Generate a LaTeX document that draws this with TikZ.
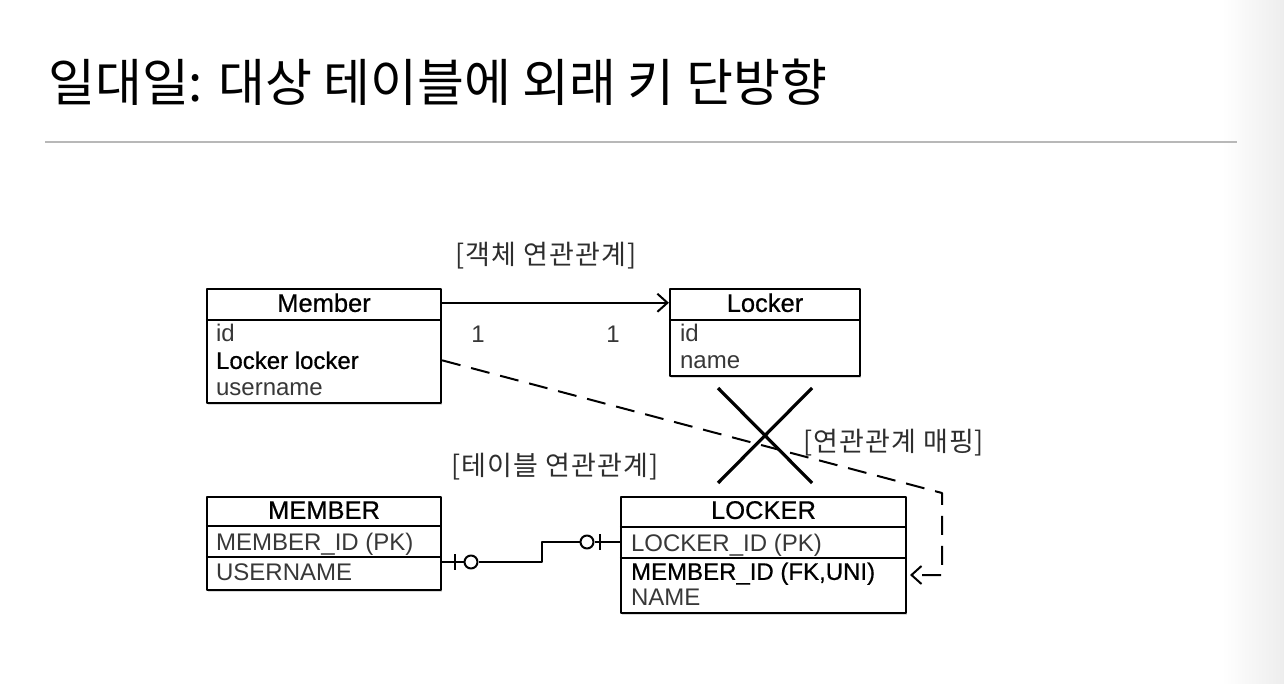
\documentclass[tikz,border=0pt]{standalone}
\usepackage{fontspec}
\setmainfont{Liberation Sans}
\newfontfamily\medfont[FakeBold=0.6]{Liberation Sans}
\newfontfamily\kr{Noto Sans CJK KR}
\newfontfamily\krl[LetterSpace=4]{Noto Sans CJK KR}
\usetikzlibrary{positioning,arrows.meta,shadows}

\tikzset{
	tbl/.style={draw,line width=2.2pt,fill=white,inner sep=0pt,
		drop shadow={opacity=0.3,shadow xshift=1pt,shadow yshift=-2pt}},
	tline/.style={line width=1.7pt},
	hd/.style={font=\medfont\fontsize{25.5}{25.5}\selectfont,anchor=base,inner sep=0pt},
	fld/.style={font=\fontsize{24}{24}\selectfont,text=black!78,anchor=base west,inner sep=0pt},
	fldb/.style={fld,font=\medfont\fontsize{24}{24}\selectfont,text=black},
	lbl/.style={font=\krl\fontsize{27}{27}\selectfont,text=black!82,inner sep=0pt},
	conn/.style={line width=2pt},
	zero/.style={circle,draw,line width=2pt,fill=white,inner sep=0pt,minimum size=13pt}
}

\begin{document}
\begin{tikzpicture}[x=1pt,y=-1pt,>={Straight Barb[length=10pt,width=18pt]},line join=round]
	\useasboundingbox (0,0) rectangle (1284,684);
	\shade[left color=white,right color=black!7] (1222,0) rectangle (1284,684);
	% title
	\node[anchor=west,inner sep=0pt,font=\kr\fontsize{51}{51}\selectfont] (title) at (48,82) {일대일: 대상 테이블에 외래 키 단방향};
	\draw[line width=1.5pt,black!28] (45,142) -- (1237,142);

	% objects
	\node[tbl,minimum width=234,minimum height=114] (member) at (324,346) {};
	\draw[tline] ([yshift=-32pt]member.north west) -- ([yshift=-32pt]member.north east);
	\node[hd] (memberhead) at ([yshift=-24pt]member.north) {Member};
	\node[fld] (memberid) at ([xshift=10pt,yshift=-54pt]member.north west) {id};
	\node[fldb] (memberlocker) at ([xshift=10pt,yshift=-81pt]member.north west) {Locker locker};
	\node[fld] (membername) at ([xshift=10pt,yshift=-108pt]member.north west) {username};

	\node[tbl,minimum width=190,minimum height=87] (locker) at (765,332.5) {};
	\draw[tline] ([yshift=-32pt]locker.north west) -- ([yshift=-32pt]locker.north east);
	\node[hd] (lockerhead) at ([yshift=-24pt]locker.north) {Locker};
	\node[fld] (lockerid) at ([xshift=11pt,yshift=-54pt]locker.north west) {id};
	\node[fld] (lockername) at ([xshift=11pt,yshift=-81pt]locker.north west) {name};

	\node[lbl] (objlabel) at (546,256) {[객체 연관관계]};
	\node[fld,anchor=base] (onea) at (478,342) {1};
	\node[fld,anchor=base] (oneb) at (613,342) {1};
	\draw[conn,->] (member.east |- memberhead.center) -- (locker.west |- memberhead.center);

	% tables
	\node[tbl,minimum width=234,minimum height=93] (MEMBER) at (324,543.5) {};
	\draw[tline] ([yshift=-30pt]MEMBER.north west) -- ([yshift=-30pt]MEMBER.north east);
	\draw[tline] ([yshift=-61pt]MEMBER.north west) -- ([yshift=-61pt]MEMBER.north east);
	\node[hd] (MEMBERhead) at ([yshift=-23pt]MEMBER.north) {MEMBER};
	\node[fld] (MEMBERid) at ([xshift=10pt,yshift=-55pt]MEMBER.north west) {MEMBER\_ID (PK)};
	\node[fld] (MEMBERname) at ([xshift=10pt,yshift=-85pt]MEMBER.north west) {USERNAME};

	\node[tbl,minimum width=285,minimum height=116] (LOCKER) at (763.5,555) {};
	\draw[tline] ([yshift=-31pt]LOCKER.north west) -- ([yshift=-31pt]LOCKER.north east);
	\draw[tline] ([yshift=-62pt]LOCKER.north west) -- ([yshift=-62pt]LOCKER.north east);
	\node[hd] (LOCKERhead) at ([yshift=-23pt]LOCKER.north) {LOCKER};
	\node[fld] (LOCKERid) at ([xshift=11pt,yshift=-56pt]LOCKER.north west) {LOCKER\_ID (PK)};
	\node[fldb] (LOCKERfk) at ([xshift=11pt,yshift=-84pt]LOCKER.north west) {MEMBER\_ID (FK,UNI)};
	\node[fld] (LOCKERname) at ([xshift=11pt,yshift=-110pt]LOCKER.north west) {NAME};

	\node[lbl] (tbllabel) at (555,467) {[테이블 연관관계]};

	% one to one (zero or one)
	\node[zero] (zM) at (471,562) {};
	\node[zero] (zL) at (587,542) {};
	\coordinate (bendM) at (542,562);
	\coordinate (bendL) at (542,542);
	\draw[conn] (MEMBER.east |- zM) -- (zM);
	\draw[conn] (zM) -- (bendM) -- (bendL) -- (zL);
	\draw[conn] (zL) -- (LOCKER.west |- zL);
	\draw[conn] (455,554) -- (455,570);
	\draw[conn] (600,534) -- (600,550);

	% mapping
	\coordinate (dk) at (942,493);
	\coordinate (dl) at (942,575);
	\coordinate (dend) at (910,575);
	\draw[conn,dash pattern=on 19pt off 11pt,->] (member.east |- memberlocker.center) -- (dk) -- (dl) -- (dend);
	\draw[line width=3.2pt] (718,388) -- (812,483) (812,388) -- (718,483);
	\node[lbl,anchor=west] (maplabel) at (803,443) {[연관관계 매핑]};
\end{tikzpicture}
\end{document}
